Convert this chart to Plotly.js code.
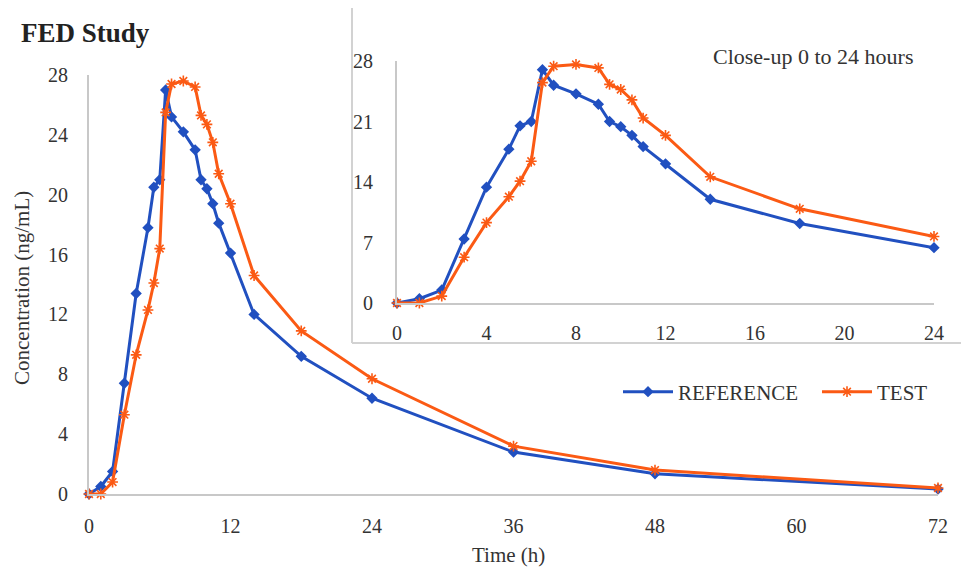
<!DOCTYPE html>
<html><head><meta charset="utf-8">
<script src="https://cdn.plot.ly/plotly-3.0.1.min.js"></script>
<style>html,body{margin:0;padding:0;background:#fff}</style>
</head><body><div id="chart" style="width:961px;height:573px"></div>
<script>
// Data
const timeH = [0, 1, 2, 3, 4, 5, 5.5, 6, 6.5, 7, 8, 9, 9.5, 10, 10.5, 11, 12, 14, 18, 24, 36, 48, 72];
const referenceConc = [0, 0.5, 1.5, 7.4, 13.4, 17.8, 20.5, 21.0, 27.0, 25.2, 24.2, 23.0, 21.0, 20.4, 19.4, 18.1, 16.1, 12.0, 9.2, 6.4, 2.8, 1.35, 0.33];
const testConc = [0, 0, 0.8, 5.3, 9.3, 12.3, 14.1, 16.4, 25.5, 27.4, 27.6, 27.2, 25.3, 24.7, 23.5, 21.4, 19.4, 14.6, 10.9, 7.7, 3.2, 1.6, 0.4];
const seriesNames = ["REFERENCE", "TEST"];
const mainXTicks = [0, 12, 24, 36, 48, 60, 72];
const mainYTicks = [0, 4, 8, 12, 16, 20, 24, 28];
const insetXTicks = [0, 4, 8, 12, 16, 20, 24];
const insetYTicks = [0, 7, 14, 21, 28];

const W = 961, H = 573;
const px = v => v / W, py = v => 1 - v / H;
const blue = "#2150c0", orange = "#fb5a14";
const serif = "Liberation Serif, Times New Roman, serif";

// inset only uses points up to 24h
const insetIdx = timeH.map((t, i) => i).filter(i => timeH[i] <= 24);
const pick = (arr) => insetIdx.map(i => arr[i]);

function series(x, y, name, color, sym, size, xa, ya, showlegend, legendRef) {
  return {
    x: x, y: y, name: name, type: "scatter", mode: "lines+markers",
    line: {color: color, width: 3},
    marker: {symbol: sym, size: size, color: color, line: {color: color, width: 1.6}},
    xaxis: xa, yaxis: ya, showlegend: showlegend, legend: legendRef, cliponaxis: false
  };
}

const data = [
  series(timeH, referenceConc, seriesNames[0], blue, "diamond", 7, "x", "y", true, "legend"),
  series(timeH, testConc, seriesNames[1], orange, "asterisk-open", 9, "x", "y", true, "legend2"),
  series(pick(timeH), pick(referenceConc), seriesNames[0], blue, "diamond", 7, "x2", "y2", false, "legend"),
  series(pick(timeH), pick(testConc), seriesNames[1], orange, "asterisk-open", 9, "x2", "y2", false, "legend2")
];

const tickFont = {family: serif, size: 20, color: "#333"};
const axisCommon = {
  showgrid: false, zeroline: false, showline: true, linecolor: "#c8c8c8", linewidth: 2,
  ticks: "", tickmode: "array", tickfont: tickFont, fixedrange: true
};
const legendFont = {family: serif, size: 21, color: "#333"};

const layout = {
  width: W, height: H, margin: {l: 0, r: 0, t: 0, b: 0},
  paper_bgcolor: "#fff", plot_bgcolor: "rgba(0,0,0,0)",
  xaxis: Object.assign({}, axisCommon, {domain: [px(89), px(938)], range: [0, 72], tickvals: mainXTicks, anchor: "y", ticklabelstandoff: 13}),
  yaxis: Object.assign({}, axisCommon, {domain: [py(494), py(75)], range: [0, 28], tickvals: mainYTicks, anchor: "x", ticklabelstandoff: 15}),
  xaxis2: Object.assign({}, axisCommon, {domain: [px(397), px(934)], range: [0, 24], tickvals: insetXTicks, anchor: "y2", ticklabelstandoff: 11}),
  yaxis2: Object.assign({}, axisCommon, {domain: [py(303), py(61)], range: [0, 28], tickvals: insetYTicks, anchor: "x2", ticklabelstandoff: 18}),
  showlegend: true,
  legend: {orientation: "h", x: px(618), xanchor: "left", y: py(392), yanchor: "middle",
           font: legendFont, bgcolor: "rgba(0,0,0,0)", itemwidth: 50},
  legend2: {orientation: "h", x: px(817), xanchor: "left", y: py(392), yanchor: "middle",
           font: legendFont, bgcolor: "rgba(0,0,0,0)", itemwidth: 50},
  shapes: [
    {type: "line", xref: "paper", yref: "paper", x0: px(352), x1: px(352), y0: py(8), y1: py(343), line: {color: "#d2d2d2", width: 2}},
    {type: "line", xref: "paper", yref: "paper", x0: px(352), x1: 1.01, y0: py(343), y1: py(343), line: {color: "#d2d2d2", width: 2}}
  ],
  annotations: [
    {text: "<b>FED Study</b>", xref: "paper", yref: "paper", x: px(19), y: py(33), xanchor: "left", yanchor: "middle", showarrow: false, font: {family: serif, size: 27, color: "#222"}},
    {text: "Close-up 0 to 24 hours", xref: "paper", yref: "paper", x: px(711), y: py(57), xanchor: "left", yanchor: "middle", showarrow: false, font: {family: serif, size: 22, color: "#333"}},
    {text: "Concentration (ng/mL)", xref: "paper", yref: "paper", x: px(22), y: py(288), xanchor: "center", yanchor: "middle", textangle: -90, showarrow: false, font: {family: serif, size: 21, color: "#333"}},
    {text: "Time (h)", xref: "paper", yref: "paper", x: px(508), y: py(555), xanchor: "center", yanchor: "middle", showarrow: false, font: {family: serif, size: 21, color: "#333"}}
  ]
};

Plotly.newPlot("chart", data, layout, {displayModeBar: false, staticPlot: true});
</script>
</body></html>
